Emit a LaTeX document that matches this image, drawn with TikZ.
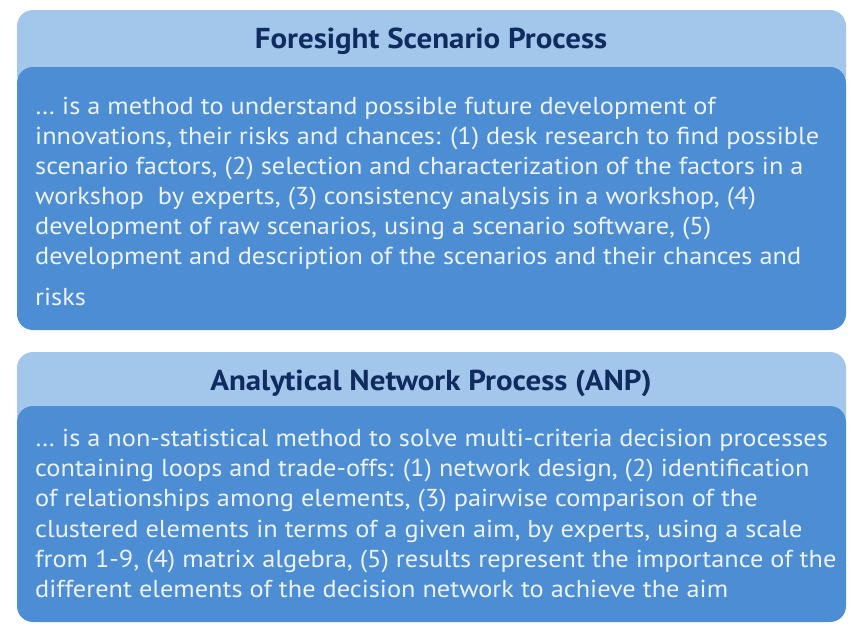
\documentclass[tikz,border=0pt]{standalone}
\usepackage{fontspec}
\setmainfont{PT Sans}[FakeStretch=1.075]
\definecolor{barblue}{HTML}{A3C7EA}
\definecolor{bodyblue}{HTML}{4C8DD4}
\definecolor{titlenavy}{HTML}{0F2B60}
\definecolor{textwhite}{HTML}{EDF3FA}
\tikzset{
  barfill/.style={fill=barblue, rounded corners=16pt},
  bodyfill/.style={fill=bodyblue, rounded corners=16pt},
  titletext/.style={font=\fontsize{28.8}{32}\selectfont\bfseries, text=titlenavy, inner sep=0pt},
  bodytext/.style={text=textwhite, align=left, inner sep=0pt}
}
\begin{document}
\begin{tikzpicture}[x=1pt,y=-1pt]
\useasboundingbox (0,0) rectangle (852,625);
\fill[white] (0,0) rectangle (852,625);
% box 1
\fill[barfill] (17,10) rectangle (846,90);
\fill[bodyfill] (17,67) rectangle (846,330);
\node[titletext, anchor=base] (t1) at (431,48) {Foresight Scenario Process};
\node[bodytext, font=\fontsize{24.5}{30}\selectfont, anchor=north west] (b1) at (35,97) {… is a method to understand possible future development of\\
innovations, their risks and chances: (1) desk research to find possible\\
scenario factors, (2) selection and characterization of the factors in a\\
workshop\ \ by experts, (3) consistency analysis in a workshop, (4)\\
development of raw scenarios, using a scenario software, (5)\\
development and description of the scenarios and their chances and\\[11pt]
risks};
% box 2
\fill[barfill] (17,352) rectangle (846,430);
\fill[bodyfill] (17,406) rectangle (846,622);
\node[titletext, anchor=base] (t2) at (431,390) {Analytical Network Process (ANP)};
\node[bodytext, font=\fontsize{24.5}{30.2}\selectfont, anchor=north west] (b2) at (35,429) {… is a non-statistical method to solve multi-criteria decision processes\\
containing loops and trade-offs: (1) network design, (2) identification\\
of relationships among elements, (3) pairwise comparison of the\\
clustered elements in terms of a given aim, by experts, using a scale\\
from 1-9, (4) matrix algebra, (5) results represent the importance of the\\
different elements of the decision network to achieve the aim};
\end{tikzpicture}
\end{document}
